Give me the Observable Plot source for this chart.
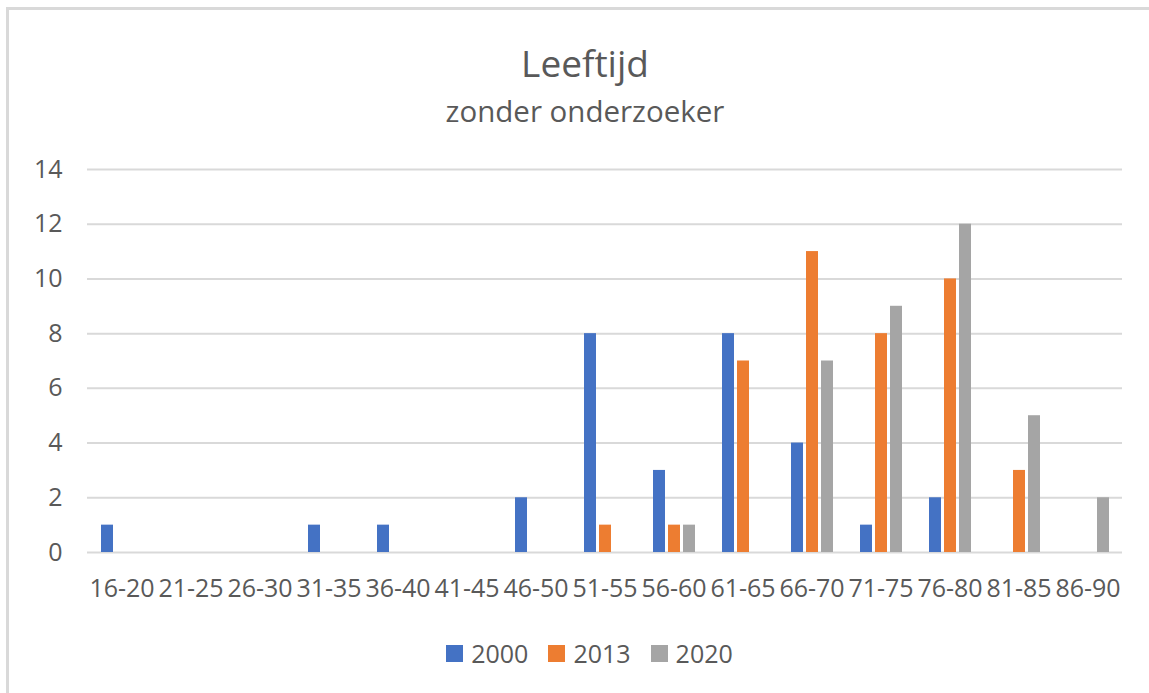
<!DOCTYPE html>
<html>
<head>
<meta charset="utf-8">
<script src="https://cdn.jsdelivr.net/npm/d3@7"></script>
<script src="https://cdn.jsdelivr.net/npm/@observablehq/plot@0.6"></script>
<style>
  body { margin: 0; background: #fff; }
  #wrap { position: relative; width: 1149px; height: 693px; overflow: hidden; background: #fff; font-family: "Open Sans", "Noto Sans", sans-serif; color: #595959; }
  #frame { position: absolute; left: 6px; top: 7px; right: -10px; bottom: -10px; border-top: 3px solid #D9D9D9; border-left: 3px solid #D9D9D9; }
  .t { position: absolute; left: 0; width: 1170px; text-align: center; white-space: nowrap; }
  #title { top: 38px; font-size: 37px; line-height: 50px; }
  #subtitle { top: 91px; font-size: 29.5px; line-height: 40px; }
  #chart { position: absolute; left: 0; top: 150px; }
  #legend { position: absolute; top: 636px; left: 0; width: 1149px; display: flex; justify-content: center; padding-left: 30px; box-sizing: border-box; font-size: 25px; line-height: 34px; }
  .item { display: flex; align-items: center; margin: 0 10px; }
  .sw { width: 17px; height: 17px; margin-right: 8px; }
</style>
</head>
<body>
<div id="wrap">
  <div id="frame"></div>
  <div class="t" id="title">Leeftijd</div>
  <div class="t" id="subtitle">zonder onderzoeker</div>
  <div id="chart"></div>
  <div id="legend"></div>
</div>
<script>
const categories = ["16-20","21-25","26-30","31-35","36-40","41-45","46-50","51-55","56-60","61-65","66-70","71-75","76-80","81-85","86-90"];
const seriesNames = ["2000","2013","2020"];
const seriesColors = ["#4472C4","#ED7D31","#A5A5A5"];
const values2000 = [1,0,0,1,1,0,2,8,3,8,4,1,2,0,0];
const values2013 = [0,0,0,0,0,0,0,1,1,7,11,8,10,3,0];
const values2020 = [0,0,0,0,0,0,0,0,1,0,7,9,12,5,2];
const yTicks = [0,2,4,6,8,10,12,14];

const seriesValues = [values2000, values2013, values2020];
const data = [];
categories.forEach((c, i) => {
  seriesNames.forEach((s, j) => {
    data.push({cat: c, year: s, value: seriesValues[j][i]});
  });
});

const plot = Plot.plot({
  width: 1149,
  height: 470,
  marginLeft: 85,
  marginRight: 26,
  marginTop: 19,
  marginBottom: 68,
  style: { fontFamily: '"Open Sans", "Noto Sans", sans-serif', fontSize: "25px", color: "#595959", background: "transparent" },
  fx: { domain: categories, paddingInner: 0, paddingOuter: 0, axis: "bottom", label: null, tickSize: 0, tickPadding: 27 },
  x: { domain: seriesNames, paddingInner: 0.226, paddingOuter: 0.845, axis: null },
  y: { domain: [0, 14], ticks: yTicks, tickSize: 0, tickPadding: 25, label: null },
  color: { domain: seriesNames, range: seriesColors },
  marks: [
    Plot.ruleY(yTicks, { stroke: "#D9D9D9", strokeWidth: 2 }),
    Plot.barY(data, { fx: "cat", x: "year", y: "value", fill: "year" })
  ]
});
document.getElementById("chart").appendChild(plot);

const legend = document.getElementById("legend");
seriesNames.forEach((s, j) => {
  const item = document.createElement("div");
  item.className = "item";
  const sw = document.createElement("div");
  sw.className = "sw";
  sw.style.background = seriesColors[j];
  const lab = document.createElement("span");
  lab.textContent = s;
  item.appendChild(sw);
  item.appendChild(lab);
  legend.appendChild(item);
});
</script>
</body>
</html>
